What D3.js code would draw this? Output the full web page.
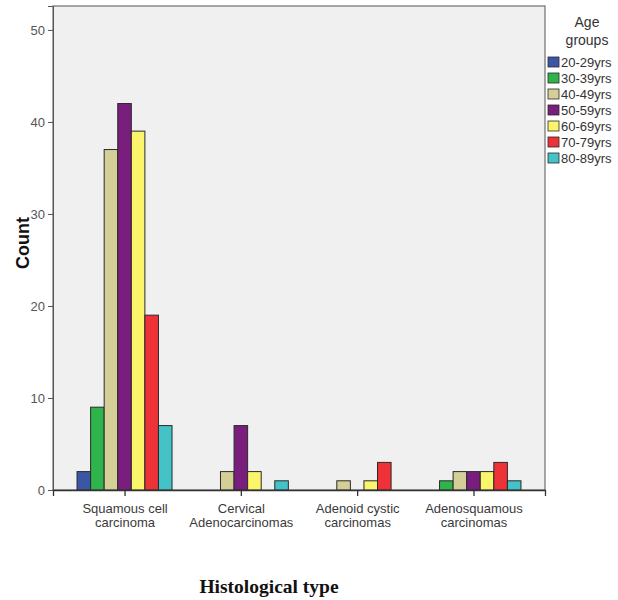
<!DOCTYPE html>
<html>
<head>
<meta charset="utf-8">
<script src="https://cdn.jsdelivr.net/npm/d3@7"></script>
<style>
  body { margin: 0; background: #fff; }
  svg { display: block; font-family: Arial, "Liberation Sans", sans-serif; }
</style>
</head>
<body>
<svg id="chart" width="618" height="600"></svg>
<script>
const categories = [
  ["Squamous cell", "carcinoma"],
  ["Cervical", "Adenocarcinomas"],
  ["Adenoid cystic", "carcinomas"],
  ["Adenosquamous", "carcinomas"]
];
const ageGroups = ["20-29yrs", "30-39yrs", "40-49yrs", "50-59yrs", "60-69yrs", "70-79yrs", "80-89yrs"];
const colors = ["#3c56a6", "#2fb34b", "#d4cf97", "#7a1e7e", "#fbf56c", "#ee3338", "#43c2c8"];
// counts per category, in age-group order
const squamous = [2, 9, 37, 42, 39, 19, 7];
const cervicalAdeno = [0, 0, 2, 7, 2, 0, 1];
const adenoidCystic = [0, 0, 1, 0, 1, 3, 0];
const adenosquamous = [0, 1, 2, 2, 2, 3, 1];
const seriesByCategory = [squamous, cervicalAdeno, adenoidCystic, adenosquamous];
const yTicks = [0, 10, 20, 30, 40, 50];

const svg = d3.select("#chart");
const L = 53, R = 545, T = 6, B = 490;

const catKeys = categories.map(c => c.join(" "));
const x0 = d3.scalePoint().domain(catKeys).range([L, R]).padding(0.615);
const x1 = d3.scaleBand().domain(ageGroups).range([-47.5, 47.5]);
const y = d3.scaleLinear().domain([0, 52.6]).range([B, T]);
const color = d3.scaleOrdinal().domain(ageGroups).range(colors);

// plot background and frame
svg.append("rect").attr("x", L).attr("y", T).attr("width", R - L).attr("height", B - T)
  .attr("fill", "#f0f0f0").attr("stroke", "#6e6e6e").attr("stroke-width", 1.2);

// bars
const groups = svg.append("g").selectAll("g").data(catKeys).join("g")
  .attr("transform", d => `translate(${x0(d)},0)`);
groups.selectAll("rect")
  .data((d, i) => ageGroups.map((a, j) => ({ age: a, v: seriesByCategory[i][j] })).filter(e => e.v > 0))
  .join("rect")
  .attr("x", d => x1(d.age))
  .attr("width", x1.bandwidth())
  .attr("y", d => y(d.v))
  .attr("height", d => y(0) - y(d.v))
  .attr("fill", d => color(d.age))
  .attr("stroke", "#2a2a2a").attr("stroke-width", 1);

// y axis
const yAxis = d3.axisLeft(y).tickValues(yTicks).tickSize(5).tickPadding(3);
const gy = svg.append("g").attr("transform", `translate(${L},0)`).call(yAxis);
gy.select(".domain").attr("stroke", "#555");
gy.selectAll(".tick line").attr("stroke", "#555");
gy.selectAll(".tick text").attr("font-size", 13).attr("fill", "#555");

// x axis
const xAxis = d3.axisBottom(x0).tickSize(6).tickFormat("");
const gx = svg.append("g").attr("transform", `translate(0,${B})`).call(xAxis);
gx.select(".domain").attr("stroke", "#333").attr("stroke-width", 1.3);
gx.selectAll(".tick line").attr("stroke", "#333").attr("stroke-width", 1.3);
gx.selectAll(".tick").each(function(d, i) {
  const t = d3.select(this).append("text").attr("fill", "#3a3a3a").attr("font-size", 13)
    .attr("text-anchor", "middle");
  categories[i].forEach((line, k) => {
    t.append("tspan").attr("x", 0).attr("y", 23 + k * 14).text(line);
  });
});

// axis titles
svg.append("text").attr("transform", `translate(29,243) rotate(-90)`)
  .attr("text-anchor", "middle").attr("font-size", 18).attr("font-weight", "bold")
  .attr("fill", "#111").text("Count");
svg.append("text").attr("x", 269).attr("y", 593).attr("text-anchor", "middle")
  .attr("font-family", "'Liberation Serif', 'DejaVu Serif', serif")
  .attr("font-size", 19.5).attr("font-weight", "bold").attr("fill", "#111")
  .text("Histological type");

// legend
const lg = svg.append("g");
lg.append("text").attr("x", 587).attr("y", 27).attr("text-anchor", "middle")
  .attr("font-size", 14).attr("fill", "#333").text("Age");
lg.append("text").attr("x", 587).attr("y", 45).attr("text-anchor", "middle")
  .attr("font-size", 14).attr("fill", "#333").text("groups");
const items = lg.selectAll("g.item").data(ageGroups).join("g")
  .attr("class", "item").attr("transform", (d, i) => `translate(548,${57 + i * 16})`);
items.append("rect").attr("width", 11).attr("height", 10)
  .attr("fill", d => color(d)).attr("stroke", "#2a2a2a").attr("stroke-width", 0.8);
items.append("text").attr("x", 13).attr("y", 10).attr("font-size", 13)
  .attr("fill", "#333").text(d => d);
</script>
</body>
</html>
